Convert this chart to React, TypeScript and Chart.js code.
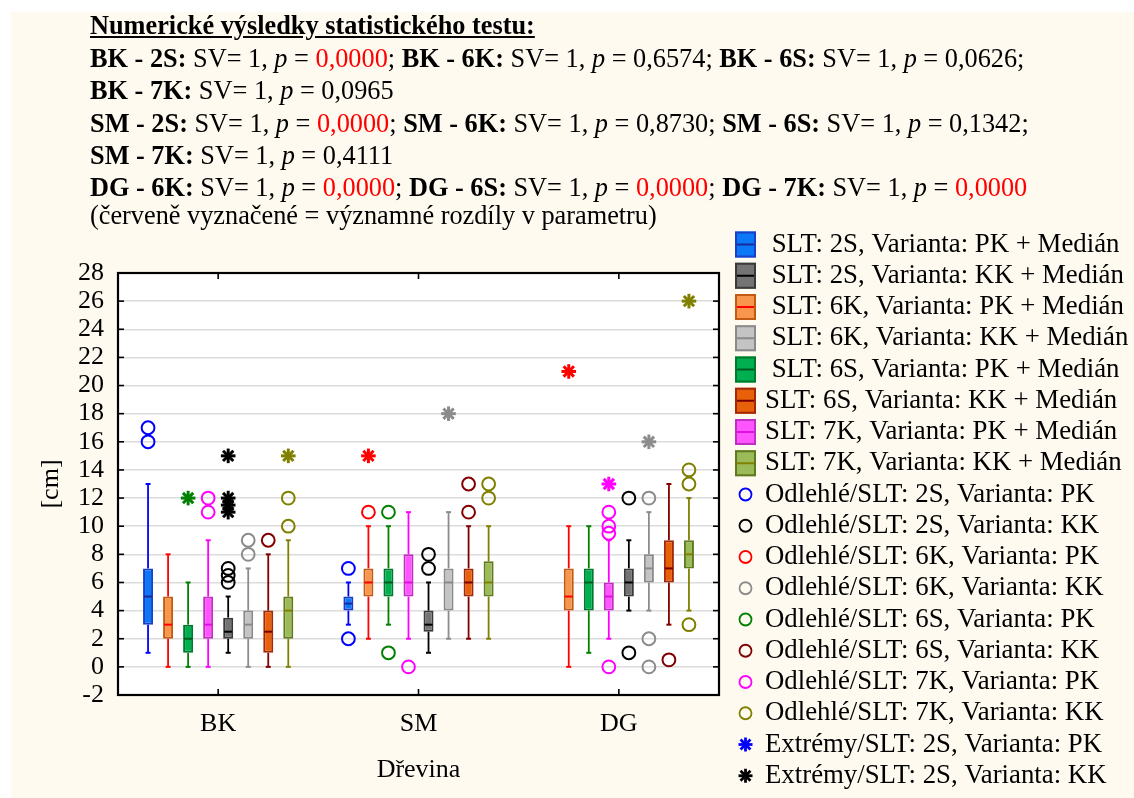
import React, { useEffect, useRef } from 'react';
import { Chart, registerables } from 'chart.js';

Chart.register(...registerables);

const FONT = "'Liberation Serif', 'Times New Roman', Times, serif";
const W = 1134;
const H = 798;
// plot frame (chart area) in canvas pixels
const PLOT = { left: 118, top: 273, right: 719, bottom: 695 };

const categories = ['BK', 'SM', 'DG'];
const yMin = -2;
const yMax = 28;
const yStep = 2;

// five-number summaries per tree species: [lower whisker, Q1, median, Q3, upper whisker]
const stats2sPK = [[1, 3, 5, 7, 13], [3, 4, 4.5, 5, 6], null];
const stats6kPK = [[0, 2, 3, 5, 8], [2, 5, 6, 7, 10], [0, 4, 5, 7, 10]];
const stats6sPK = [[0, 1, 2, 3, 6], [3, 5, 6, 7, 10], [1, 4, 6, 7, 10]];
const stats7kPK = [[0, 2, 3, 5, 9], [2, 5, 6, 8, 11], [2, 4, 5, 6, 9]];
const stats2sKK = [[1, 2, 2.5, 3.5, 5], [1, 2.5, 3, 4, 6], [4, 5, 6, 7, 9]];
const stats6kKK = [[0, 2, 3, 4, 7], [2, 4, 6, 7, 11], [4, 6, 7, 8, 11]];
const stats6sKK = [[0, 1, 2.5, 4, 8], [2, 5, 6, 7, 10], [3, 6, 7, 9, 13]];
const stats7kKK = [[0, 2, 4, 5, 9], [2, 5, 6, 7.5, 10], [4, 7, 8, 9, 12]];

// outliers (circles) per species
const out2sPK = [[16, 17], [2, 7], []];
const out6kPK = [[], [11], []];
const out6sPK = [[], [1, 11], []];
const out7kPK = [[11, 12], [0], [0, 9.5, 10, 11]];
const out2sKK = [[6, 6.5, 7], [7, 8], [1, 12]];
const out6kKK = [[8, 9], [], [0, 2, 12]];
const out6sKK = [[9], [11, 13], [0.5]];
const out7kKK = [[10, 12], [12, 13], [3, 13, 14]];

// extremes (asterisks) per species
const ext2sPK = [[], [], []];
const ext6kPK = [[], [15], [21]];
const ext6sPK = [[12], [], []];
const ext7kPK = [[], [], [13]];
const ext2sKK = [[11, 11.5, 12, 15], [], []];
const ext6kKK = [[], [18], [16]];
const ext6sKK = [[], [], []];
const ext7kKK = [[15], [], [26]];

// statistical test results shown above the chart
const testPairs = ['BK - 2S', 'BK - 6K', 'BK - 6S', 'BK - 7K', 'SM - 2S', 'SM - 6K', 'SM - 6S', 'SM - 7K', 'DG - 6K', 'DG - 6S', 'DG - 7K'];
const testDf = [1, 1, 1, 1, 1, 1, 1, 1, 1, 1, 1];
const testP = ['0,0000', '0,6574', '0,0626', '0,0965', '0,0000', '0,8730', '0,1342', '0,4111', '0,0000', '0,0000', '0,0000'];
const testLines = [[0, 1, 2], [3], [4, 5, 6], [7], [8, 9, 10]];

type Series = {
  name: string;
  stats: (number[] | null)[];
  outliers: number[][];
  extremes: number[][];
  fill: string;
  edge: string;
  median: string;
  line: string;
};

// drawing order inside each group: PK variants first, then KK
const series: Series[] = [
  { name: 'SLT: 2S, Varianta: PK', stats: stats2sPK, outliers: out2sPK, extremes: ext2sPK, fill: '#0a78f7', edge: '#1c3fc8', median: '#1a2a9a', line: '#0000ff' },
  { name: 'SLT: 6K, Varianta: PK', stats: stats6kPK, outliers: out6kPK, extremes: ext6kPK, fill: '#f7964c', edge: '#c25a12', median: '#ff0000', line: '#ff0000' },
  { name: 'SLT: 6S, Varianta: PK', stats: stats6sPK, outliers: out6sPK, extremes: ext6sPK, fill: '#00b050', edge: '#00782d', median: '#005c22', line: '#008000' },
  { name: 'SLT: 7K, Varianta: PK', stats: stats7kPK, outliers: out7kPK, extremes: ext7kPK, fill: '#ff55ff', edge: '#c030c0', median: '#e010e0', line: '#ff00ff' },
  { name: 'SLT: 2S, Varianta: KK', stats: stats2sKK, outliers: out2sKK, extremes: ext2sKK, fill: '#747474', edge: '#3a3a3a', median: '#000000', line: '#000000' },
  { name: 'SLT: 6K, Varianta: KK', stats: stats6kKK, outliers: out6kKK, extremes: ext6kKK, fill: '#c4c4c4', edge: '#8a8a8a', median: '#8a8a8a', line: '#8c8c8c' },
  { name: 'SLT: 6S, Varianta: KK', stats: stats6sKK, outliers: out6sKK, extremes: ext6sKK, fill: '#e8600a', edge: '#a3280a', median: '#7a0000', line: '#800000' },
  { name: 'SLT: 7K, Varianta: KK', stats: stats7kKK, outliers: out7kKK, extremes: ext7kKK, fill: '#9bbb59', edge: '#5f7a1f', median: '#808000', line: '#808000' },
];

// legend order: series indices
const legendOrder = [0, 4, 1, 5, 2, 6, 3, 7];
const legendTop = 244.5;
const legendStep = 31.25;
const legendIconX = 745.5;
const legendTextX = 765;

function strokeLine(ctx: CanvasRenderingContext2D, x1: number, y1: number, x2: number, y2: number) {
  ctx.beginPath();
  ctx.moveTo(x1, y1);
  ctx.lineTo(x2, y2);
  ctx.stroke();
}

function drawCircle(ctx: CanvasRenderingContext2D, x: number, y: number, r: number, color: string, lw: number) {
  ctx.strokeStyle = color;
  ctx.lineWidth = lw;
  ctx.beginPath();
  ctx.arc(x, y, r, 0, Math.PI * 2);
  ctx.stroke();
}

function drawAsterisk(ctx: CanvasRenderingContext2D, x: number, y: number, r: number, color: string, lw: number) {
  ctx.strokeStyle = color;
  ctx.lineWidth = lw;
  for (let k = 0; k < 4; k++) {
    const a = (k * Math.PI) / 4;
    const dx = Math.cos(a) * r;
    const dy = Math.sin(a) * r;
    strokeLine(ctx, x - dx, y - dy, x + dx, y + dy);
  }
}

const backdrop = {
  id: 'backdrop',
  beforeDraw(chart: any) {
    const { ctx, chartArea } = chart;
    ctx.save();
    ctx.fillStyle = '#ffffff';
    ctx.fillRect(0, 0, W, H);
    ctx.fillStyle = '#fefaf0';
    ctx.fillRect(11, 12, W - 11, H - 12);
    ctx.fillStyle = '#ffffff';
    ctx.fillRect(chartArea.left, chartArea.top, chartArea.right - chartArea.left, chartArea.bottom - chartArea.top);
    ctx.restore();
  },
};

const boxWhiskers = {
  id: 'boxWhiskers',
  afterDatasetsDraw(chart: any) {
    const { ctx } = chart;
    const y = chart.scales.y;
    ctx.save();
    ctx.lineCap = 'butt';
    series.forEach((s, di) => {
      const meta = chart.getDatasetMeta(di);
      meta.data.forEach((bar: any, ci: number) => {
        const x = bar.x;
        const st = s.stats[ci];
        if (st) {
          const w = bar.width;
          const [lo, q1, med, q3, hi] = st;
          ctx.strokeStyle = s.line;
          ctx.lineWidth = 1.8;
          strokeLine(ctx, x, y.getPixelForValue(q3), x, y.getPixelForValue(hi));
          strokeLine(ctx, x, y.getPixelForValue(q1), x, y.getPixelForValue(lo));
          ctx.lineWidth = 2;
          strokeLine(ctx, x - 2.5, y.getPixelForValue(hi), x + 2.5, y.getPixelForValue(hi));
          strokeLine(ctx, x - 2.5, y.getPixelForValue(lo), x + 2.5, y.getPixelForValue(lo));
          ctx.strokeStyle = s.median;
          ctx.lineWidth = 2;
          strokeLine(ctx, x - w / 2 + 1, y.getPixelForValue(med), x + w / 2 - 1, y.getPixelForValue(med));
        }
        s.outliers[ci].forEach((v) => drawCircle(ctx, x, y.getPixelForValue(v), 6.4, s.line, 2));
        s.extremes[ci].forEach((v) => drawAsterisk(ctx, x, y.getPixelForValue(v), 7.3, s.line, 3));
      });
    });
    ctx.restore();
  },
};

const frame = {
  id: 'frame',
  afterDraw(chart: any) {
    const { ctx, chartArea } = chart;
    const { left, top, right, bottom } = chartArea;
    const x = chart.scales.x;
    const y = chart.scales.y;
    ctx.save();
    ctx.strokeStyle = '#000000';
    ctx.lineWidth = 1.6;
    y.ticks.forEach((t: any) => {
      const py = y.getPixelForValue(t.value);
      strokeLine(ctx, left, py, left + 6, py);
      strokeLine(ctx, right - 6, py, right, py);
    });
    categories.forEach((_, i) => {
      const px = x.getPixelForTick(i);
      strokeLine(ctx, px, top, px, top + 6);
      strokeLine(ctx, px, bottom - 6, px, bottom);
    });
    ctx.lineWidth = 2.2;
    ctx.strokeRect(left, top, right - left, bottom - top);
    ctx.restore();
  },
};

const legendBox = {
  id: 'legendBox',
  afterDraw(chart: any) {
    const { ctx } = chart;
    ctx.save();
    ctx.font = `26.8px ${FONT}`;
    ctx.textBaseline = 'middle';
    ctx.textAlign = 'left';
    let row = 0;
    legendOrder.forEach((si, k) => {
      const s = series[si];
      const cy = legendTop + row * legendStep;
      const bw = 21;
      const bh = 26;
      ctx.fillStyle = s.fill;
      ctx.fillRect(legendIconX - bw / 2, cy - bh / 2, bw, bh);
      ctx.strokeStyle = s.edge;
      ctx.lineWidth = 2;
      ctx.strokeRect(legendIconX - bw / 2 + 1, cy - bh / 2 + 1, bw - 2, bh - 2);
      ctx.strokeStyle = s.median;
      strokeLine(ctx, legendIconX - bw / 2 + 2, cy, legendIconX + bw / 2 - 2, cy);
      ctx.fillStyle = '#000000';
      const lead = k < 5 ? ' ' : '';
      ctx.fillText(`${lead}${s.name} + Medián`, legendTextX, cy);
      row++;
    });
    legendOrder.forEach((si) => {
      const s = series[si];
      const cy = legendTop + row * legendStep;
      drawCircle(ctx, legendIconX, cy, 6, s.line, 1.8);
      ctx.fillStyle = '#000000';
      ctx.fillText(`Odlehlé/${s.name}`, legendTextX, cy);
      row++;
    });
    [0, 4].forEach((si) => {
      const s = series[si];
      const cy = legendTop + row * legendStep;
      drawAsterisk(ctx, legendIconX, cy, 7, s.line, 2.8);
      ctx.fillStyle = '#000000';
      ctx.fillText(`Extrémy/${s.name}`, legendTextX, cy);
      row++;
    });
    ctx.restore();
  },
};

function isSignificant(p: string) {
  return parseFloat(p.replace(',', '.')) < 0.05;
}

function Header() {
  const lineTops = [11, 44, 76, 109, 141, 173, 201];
  const textStyle: React.CSSProperties = {
    position: 'absolute',
    left: 0,
    whiteSpace: 'pre',
    lineHeight: '30px',
  };
  return (
    <div style={{ position: 'absolute', left: 90, top: 0, fontFamily: FONT, fontSize: 26.3, color: '#000' }}>
      <div style={{ ...textStyle, top: lineTops[0] }}>
        <b><u>Numerické výsledky statistického testu:</u></b>
      </div>
      {testLines.map((items, li) => (
        <div key={li} style={{ ...textStyle, top: lineTops[li + 1] }}>
          {items.map((ti, k) => {
            const next = testPairs[ti + 1];
            const sameTree = next !== undefined && next.slice(0, 2) === testPairs[ti].slice(0, 2);
            return (
              <React.Fragment key={ti}>
                {k > 0 ? ' ' : ''}
                <b>{testPairs[ti]}:</b>
                {` SV= ${testDf[ti]}, `}
                <i>p</i>
                {' = '}
                <span style={{ color: isSignificant(testP[ti]) ? '#ff0000' : '#000' }}>{testP[ti]}</span>
                {sameTree ? ';' : ''}
              </React.Fragment>
            );
          })}
        </div>
      ))}
      <div style={{ ...textStyle, top: lineTops[6] }}>(červeně vyznačené = významné rozdíly v parametru)</div>
    </div>
  );
}

export default function App() {
  const canvasRef = useRef<HTMLCanvasElement | null>(null);

  useEffect(() => {
    const canvas = canvasRef.current;
    if (!canvas) return;
    const tickFont = { family: FONT, size: 26 };
    const chart = new Chart(canvas, {
      type: 'bar',
      data: {
        labels: categories,
        datasets: series.map((s) => ({
          label: s.name,
          data: s.stats.map((v) => (v ? [v[1], v[3]] : null)) as any,
          backgroundColor: s.fill,
          borderColor: s.edge,
          borderWidth: 2,
          borderSkipped: false,
          categoryPercentage: 0.8,
          barPercentage: 0.5,
        })),
      },
      options: {
        responsive: false,
        animation: false,
        devicePixelRatio: 1,
        layout: { padding: { left: 0, top: PLOT.top, right: W - PLOT.right, bottom: 0 } },
        plugins: {
          legend: { display: false },
          tooltip: { enabled: false },
          title: { display: false },
        },
        scales: {
          x: {
            type: 'category',
            grid: { display: false, drawTicks: false },
            border: { display: false },
            ticks: { color: '#000', font: tickFont, padding: 14 },
            title: { display: true, text: 'Dřevina', color: '#000', font: tickFont, padding: { top: 0, bottom: 12 } },
            afterFit: (sc: any) => {
              sc.height = H - PLOT.bottom;
            },
          },
          y: {
            type: 'linear',
            min: yMin,
            max: yMax,
            ticks: { stepSize: yStep, autoSkip: false, color: '#000', font: tickFont, padding: 14 },
            grid: { color: '#dcdcdc', lineWidth: 1.5, drawTicks: false },
            border: { display: false },
            title: { display: true, text: '[cm]', color: '#000', font: tickFont, padding: { top: 36, bottom: 0 } },
            afterFit: (sc: any) => {
              sc.width = PLOT.left;
            },
          },
        },
      } as any,
      plugins: [backdrop, boxWhiskers, frame, legendBox],
    });
    return () => chart.destroy();
  }, []);

  return (
    <div style={{ position: 'absolute', left: 0, top: 0, width: W, height: H, overflow: 'hidden' }}>
      <canvas ref={canvasRef} width={W} height={H} style={{ position: 'absolute', left: 0, top: 0, display: 'block' }} />
      <Header />
    </div>
  );
}
